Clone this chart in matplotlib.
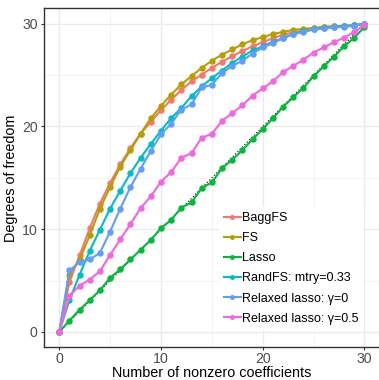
import numpy as np
import matplotlib
matplotlib.use("Agg")
import matplotlib.pyplot as plt

plt.rcParams['font.family'] = ['Liberation Sans', 'DejaVu Sans']

# number of nonzero coefficients
nz = np.arange(31)

bagg_fs = [0, 4.85, 7.44, 10.1, 12.5, 14.5, 16.3, 17.9, 19.3, 20.45, 21.6,
           22.6, 23.55, 24.4, 25.05, 25.7, 26.3, 26.85, 27.35, 27.8, 28.2,
           28.6, 28.9, 29.2, 29.3, 29.55, 29.65, 29.75, 29.8, 29.85, 30.0]
fs = [0, 5.56, 7.05, 9.4, 12.0, 14.1, 16.1, 17.7, 19.3, 20.8, 22.0,
      23.1, 24.1, 24.9, 25.7, 26.4, 27.0, 27.5, 28.0, 28.4, 28.7,
      29.0, 29.2, 29.4, 29.5, 29.6, 29.7, 29.75, 29.8, 29.85, 30.0]
lasso = [0, 1.1, 2.15, 3.1, 4.05, 5.25, 6.1, 7.05, 8.0, 8.95, 10.1,
         10.9, 12.1, 12.6, 14.0, 14.55, 15.95, 16.75, 17.7, 18.75, 19.75,
         20.8, 21.9, 22.85, 23.75, 24.9, 25.85, 26.8, 27.8, 28.65, 29.7]
rand_fs = [0, 3.1, 5.56, 7.9, 9.96, 12.0, 13.75, 15.45, 16.95, 18.3, 19.6,
           20.8, 21.8, 22.95, 23.9, 24.7, 25.45, 26.2, 26.8, 27.4, 27.8,
           28.25, 28.6, 29.0, 29.25, 29.45, 29.6, 29.7, 29.75, 29.85, 30.0]
relax_0 = [0, 5.98, 6.8, 7.05, 7.7, 9.77, 12.0, 14.1, 15.9, 17.6, 19.25,
           20.25, 21.65, 22.15, 23.8, 24.05, 25.2, 25.9, 26.4, 27.1, 27.7,
           28.1, 28.6, 29.0, 29.2, 29.45, 29.55, 29.65, 29.7, 29.8, 30.0]
relax_05 = [0, 3.52, 4.5, 5.1, 5.9, 7.5, 9.0, 10.5, 12.05, 13.2, 14.63,
            15.55, 16.95, 17.4, 18.9, 19.28, 20.55, 21.3, 22.05, 23.0, 23.7,
            24.4, 25.3, 25.9, 26.5, 27.2, 27.7, 28.2, 28.65, 29.2, 29.9]

labels = ["BaggFS", "FS", "Lasso", "RandFS: mtry=0.33",
          "Relaxed lasso: \u03b3=0", "Relaxed lasso: \u03b3=0.5"]
colors = ["#F8766D", "#B79F00", "#00BA38", "#00BFC4", "#619CFF", "#F564E3"]
series = [bagg_fs, fs, lasso, rand_fs, relax_0, relax_05]

fig = plt.figure(figsize=(3.79, 3.80), dpi=100)
ax = fig.add_axes([0.116, 0.086, 0.886, 0.892])

# y = x reference
ax.plot([0, 30], [0, 30], color="black", linestyle=(0, (1, 2)), linewidth=0.8, zorder=2)

for ys, lab, col in zip(series, labels, colors):
    ax.plot(nz, ys, color=col, linewidth=1.5, marker="o", markersize=3.6,
            label=lab, zorder=3)

ax.set_xlim(-1.5, 31.5)
ax.set_ylim(-1.5, 31.5)
ax.set_xticks([0, 10, 20, 30])
ax.set_yticks([0, 10, 20, 30])
ax.set_xticks([5, 15, 25], minor=True)
ax.set_yticks([5, 15, 25], minor=True)
ax.grid(which="major", color="#EBEBEB", linewidth=1.0)
ax.grid(which="minor", color="#F2F2F2", linewidth=0.6)
ax.set_axisbelow(True)
ax.tick_params(which="major", length=2.5, width=0.8, color="#333333",
               labelsize=10.2, labelcolor="#4D4D4D")
ax.tick_params(axis="x", pad=1)
ax.tick_params(axis="y", pad=2)
ax.tick_params(which="minor", length=0)
for side in ["left", "bottom", "top"]:
    ax.spines[side].set_color("#333333")
    ax.spines[side].set_linewidth(1.0)
ax.spines["right"].set_visible(False)

ax.set_xlabel("Number of nonzero coefficients", fontsize=10.4, labelpad=0)
ax.set_ylabel("Degrees of freedom", fontsize=10.4, labelpad=3)

leg = ax.legend(loc="center left", bbox_to_anchor=(0.521, 0.233),
                borderaxespad=0, frameon=True,
                fontsize=9, handlelength=1.36, handletextpad=0.12,
                labelspacing=0.65, borderpad=0.4, markerscale=0.7)
leg.get_frame().set_edgecolor("none")
leg.get_frame().set_facecolor("white")
leg.get_frame().set_alpha(1)
leg.get_frame().set_boxstyle("square", pad=0)

fig.savefig("out.png", dpi=100)
